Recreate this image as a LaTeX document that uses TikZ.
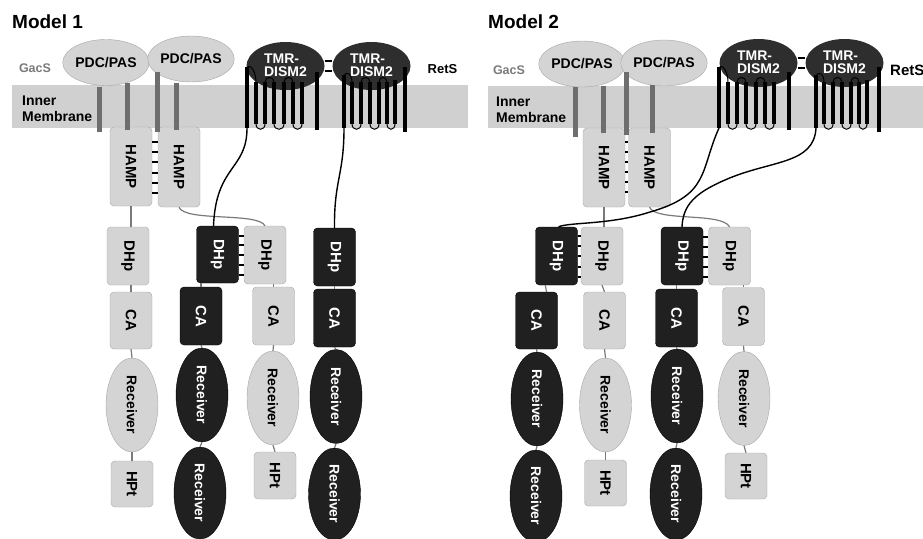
\documentclass[tikz,border=0pt]{standalone}
\usepackage{fontspec}
\setmainfont{Liberation Sans}
\usepackage{graphicx}
\usetikzlibrary{shapes.geometric}
\definecolor{boxfill}{HTML}{D4D4D4}
\definecolor{boxedge}{HTML}{A6A6A6}
\definecolor{domdark}{HTML}{202020}
\definecolor{tmrdark}{HTML}{2E2E2E}
\definecolor{membgrey}{HTML}{D0D0D0}
\definecolor{stalkgrey}{HTML}{6E6E6E}
\definecolor{linkgrey}{HTML}{7A7A7A}
\definecolor{gacsgrey}{HTML}{7A7A7A}

\begin{document}
\begin{tikzpicture}[x=1pt,y=-1pt]
\tikzstyle{every node}+=[inner sep=0pt]
\tikzstyle{gbox}=[draw=boxedge, fill=boxfill, rounded corners=4pt, minimum width=42pt, minimum height=58pt, font=\bfseries\fontsize{15}{17}\selectfont]
\tikzstyle{kbox}=[draw=black, fill=domdark, text=white, rounded corners=4pt, minimum width=42pt, minimum height=58pt, font=\bfseries\fontsize{15}{17}\selectfont]
\tikzstyle{grec}=[ellipse, draw=boxedge, fill=boxfill, minimum width=52pt, minimum height=94pt, font=\bfseries\fontsize{14}{16}\selectfont]
\tikzstyle{krec}=[ellipse, draw=black, fill=domdark, text=white, minimum width=52pt, minimum height=94pt, font=\bfseries\fontsize{14}{16}\selectfont]
\tikzstyle{pas}=[ellipse, draw=boxedge, fill=boxfill, minimum width=80pt, minimum height=46pt, font=\bfseries\fontsize{14}{16}\selectfont]
\tikzstyle{tmr}=[ellipse, fill=tmrdark, text=white, align=left, minimum width=78pt, minimum height=48pt, font=\bfseries\fontsize{14}{17}\selectfont]
\tikzstyle{tag}=[font=\bfseries\fontsize{14}{16}\selectfont]
\tikzstyle{stalk}=[stalkgrey, line width=5pt]
\tikzstyle{helix}=[black, line width=4.5pt]
\tikzstyle{helixloop}=[black, line width=1pt]
\tikzstyle{rung}=[black, line width=1.4pt]
\tikzstyle{linkline}=[linkgrey, line width=1.2pt]
\tikzstyle{tether}=[black, line width=1.4pt]
\useasboundingbox (0,0) rectangle (923,538);
\fill [membgrey] (12,85) rectangle (468,128);
\fill [membgrey] (488,86) rectangle (923,128);
\node [tag, anchor=west, font=\bfseries\fontsize{19}{22}\selectfont] (title1) at (12,22) {Model 1};
\node [tag, anchor=west, font=\bfseries\fontsize{19}{22}\selectfont] (title2) at (488,22) {Model 2};
\node [tag, text=gacsgrey, font=\bfseries\fontsize{12.5}{14}\selectfont] (gacs1) at (35,68) {GacS};
\node [tag, text=gacsgrey, font=\bfseries\fontsize{12.5}{14}\selectfont] (gacs2) at (509,70) {GacS};
\node [tag, anchor=west, align=left] (memb1) at (22,108.5) {Inner\\Membrane};
\node [tag, anchor=west, align=left] (memb2) at (496,109.5) {Inner\\Membrane};
\node [tag, font=\bfseries\fontsize{13}{15}\selectfont] (rets1) at (442.5,69) {RetS};
\node [tag, anchor=west, font=\bfseries\fontsize{15}{17}\selectfont] (rets2) at (890,70) {RetS};
\node [pas] (pas1) at (106,62.5) {PDC/PAS};
\node [pas] (pas2) at (191,59) {PDC/PAS};
\node [pas] (pas3) at (582,64) {PDC/PAS};
\node [pas] (pas4) at (664,63) {PDC/PAS};
\node [tmr] (tmr1) at (285.5,66) {\raisebox{2pt}{\shortstack[l]{TMR-\\DISM2}}};
\node [tmr] (tmr2) at (371.5,66) {\raisebox{2pt}{\shortstack[l]{TMR-\\DISM2}}};
\node [tmr] (tmr3) at (758.5,63) {\raisebox{2pt}{\shortstack[l]{TMR-\\DISM2}}};
\node [tmr] (tmr4) at (844.5,63) {\raisebox{2pt}{\shortstack[l]{TMR-\\DISM2}}};
\node [gbox, minimum height=79pt] (hamp1) at (131,166.5) {\rotatebox{-90}{HAMP}};
\node [gbox, minimum height=80pt] (hamp2) at (179,167) {\rotatebox{-90}{HAMP}};
\node [gbox] (dhp1) at (128,256) {\rotatebox{-90}{DHp}};
\node [gbox, minimum height=57pt] (ca1) at (131,320.5) {\rotatebox{-90}{CA}};
\node [grec] (rec1) at (132,405) {\rotatebox{-90}{Receiver}};
\node [gbox, minimum height=46pt] (hpt1) at (132,484) {\rotatebox{-90}{HPt}};
\node [kbox, minimum height=57pt] (dhp2) at (217.5,254.5) {\rotatebox{-90}{DHp}};
\node [kbox] (ca2) at (201,316) {\rotatebox{-90}{CA}};
\node [krec] (rec2) at (202,395) {\rotatebox{-90}{Receiver}};
\node [krec, minimum height=92pt] (rec3) at (200,493) {\rotatebox{-90}{Receiver}};
\node [gbox] (dhp3) at (265,255) {\rotatebox{-90}{DHp}};
\node [gbox] (ca3) at (273.5,316) {\rotatebox{-90}{CA}};
\node [grec] (rec4) at (273,398) {\rotatebox{-90}{Receiver}};
\node [gbox, minimum height=47pt] (hpt2) at (275,475.5) {\rotatebox{-90}{HPt}};
\node [kbox] (dhp4) at (334.5,257) {\rotatebox{-90}{DHp}};
\node [kbox] (ca4) at (334.5,318) {\rotatebox{-90}{CA}};
\node [krec] (rec5) at (336,396.5) {\rotatebox{-90}{Receiver}};
\node [krec, minimum height=92pt] (rec6) at (334.5,494) {\rotatebox{-90}{Receiver}};
\node [gbox, minimum height=79pt] (hamp3) at (604,167.5) {\rotatebox{-90}{HAMP}};
\node [gbox, minimum height=79pt] (hamp4) at (649.5,167.5) {\rotatebox{-90}{HAMP}};
\node [kbox] (dhp5) at (556.5,256) {\rotatebox{-90}{DHp}};
\node [kbox, minimum height=57pt] (ca5) at (536.5,320.5) {\rotatebox{-90}{CA}};
\node [krec] (rec7) at (537,399) {\rotatebox{-90}{Receiver}};
\node [krec, minimum height=92pt] (rec8) at (536,496) {\rotatebox{-90}{Receiver}};
\node [gbox] (dhp6) at (602,256) {\rotatebox{-90}{DHp}};
\node [gbox, minimum height=57pt] (ca6) at (604.5,320.5) {\rotatebox{-90}{CA}};
\node [grec] (rec9) at (605.5,405) {\rotatebox{-90}{Receiver}};
\node [gbox, minimum height=46pt] (hpt3) at (605.5,483) {\rotatebox{-90}{HPt}};
\node [kbox] (dhp7) at (682,256) {\rotatebox{-90}{DHp}};
\node [kbox] (ca7) at (676.5,318) {\rotatebox{-90}{CA}};
\node [krec] (rec10) at (677,396) {\rotatebox{-90}{Receiver}};
\node [krec, minimum height=92pt] (rec11) at (676,494) {\rotatebox{-90}{Receiver}};
\node [gbox] (dhp8) at (729.5,256) {\rotatebox{-90}{DHp}};
\node [gbox] (ca8) at (743.5,316.5) {\rotatebox{-90}{CA}};
\node [grec] (rec12) at (744,398.5) {\rotatebox{-90}{Receiver}};
\node [gbox, minimum height=46pt] (hpt4) at (746,476) {\rotatebox{-90}{HPt}};
\draw [stalk] (99.5,87) -- (99.5,132);
\draw [stalk] (127.5,83) -- (127.5,130);
\draw [stalk] (157.5,72) -- (157.5,132);
\draw [stalk] (176.5,83) -- (176.5,130);
\draw [stalk] (575.5,87) -- (575.5,137);
\draw [stalk] (603.5,86) -- (603.5,133);
\draw [stalk] (626.5,72) -- (626.5,135);
\draw [stalk] (652.5,85) -- (652.5,133);
\draw [rung] ([yshift=5pt]tmr1.east) -- ([yshift=5pt]tmr2.west) ([yshift=-5pt]tmr1.east) -- ([yshift=-5pt]tmr2.west);
\draw [rung] ([yshift=5pt]tmr3.east) -- ([yshift=5pt]tmr4.west) ([yshift=-5pt]tmr3.east) -- ([yshift=-5pt]tmr4.west);
\draw [helix] (247,67) -- (247,128) (256,82) -- (256,124) (265,82) -- (265,124) (274,82) -- (274,124) (284,82) -- (284,124) (293,82) -- (293,124) (302,82) -- (302,124) (317,72) -- (317,130);
\draw [helixloop] (247,70) .. controls (247,62) and (256,68) .. (256,82) (265,82) .. controls (265,76) and (274,76) .. (274,82) (284,82) .. controls (284,76) and (293,76) .. (293,82) (256,124) .. controls (256,131) and (265,131) .. (265,124) (274,124) .. controls (274,131) and (284,131) .. (284,124) (293,124) .. controls (293,131) and (302,131) .. (302,124);
\draw [helix] (344,75) -- (344,128) (352,82) -- (352,124) (361,82) -- (361,124) (370,82) -- (370,124) (379,82) -- (379,124) (387,82) -- (387,124) (395,80) -- (395,124) (405,67) -- (405,132);
\draw [helixloop] (344,77) .. controls (344,71) and (352,72) .. (352,82) (361,82) .. controls (361,76) and (370,76) .. (370,82) (379,82) .. controls (379,76) and (387,76) .. (387,82) (352,124) .. controls (352,131) and (361,131) .. (361,124) (370,124) .. controls (370,131) and (379,131) .. (379,124) (387,124) .. controls (387,131) and (395,131) .. (395,124);
\draw [helix] (719,67) -- (719,128) (728,82) -- (728,124) (737,82) -- (737,124) (746,82) -- (746,124) (756,82) -- (756,124) (765,82) -- (765,124) (774,82) -- (774,124) (789,72) -- (789,130);
\draw [helixloop] (719,70) .. controls (719,62) and (728,68) .. (728,82) (737,82) .. controls (737,76) and (746,76) .. (746,82) (756,82) .. controls (756,76) and (765,76) .. (765,82) (728,124) .. controls (728,131) and (737,131) .. (737,124) (746,124) .. controls (746,131) and (756,131) .. (756,124) (765,124) .. controls (765,131) and (774,131) .. (774,124);
\draw [helix] (816,75) -- (816,128) (824,82) -- (824,124) (833,82) -- (833,124) (842,82) -- (842,124) (851,82) -- (851,124) (859,82) -- (859,124) (867,80) -- (867,124) (879,67) -- (879,132);
\draw [helixloop] (816,77) .. controls (816,71) and (824,72) .. (824,82) (833,82) .. controls (833,76) and (842,76) .. (842,82) (851,82) .. controls (851,76) and (859,76) .. (859,82) (824,124) .. controls (824,131) and (833,131) .. (833,124) (842,124) .. controls (842,131) and (851,131) .. (851,124) (859,124) .. controls (859,131) and (867,131) .. (867,124);
\coordinate (foot1) at (247,128);
\coordinate (foot2) at (344,128);
\coordinate (foot3) at (719,128);
\coordinate (foot4) at (816,128);
\draw [rung] (hamp1.east |- 0,142) -- (hamp2.west |- 0,142) (hamp1.east |- 0,152) -- (hamp2.west |- 0,152) (hamp1.east |- 0,162) -- (hamp2.west |- 0,162) (hamp1.east |- 0,173) -- (hamp2.west |- 0,173) (hamp1.east |- 0,183) -- (hamp2.west |- 0,183) (hamp1.east |- 0,193) -- (hamp2.west |- 0,193);
\draw [rung] (dhp2.east |- 0,236) -- (dhp3.west |- 0,236) (dhp2.east |- 0,245) -- (dhp3.west |- 0,245) (dhp2.east |- 0,255) -- (dhp3.west |- 0,255) (dhp2.east |- 0,265) -- (dhp3.west |- 0,265) (dhp2.east |- 0,275) -- (dhp3.west |- 0,275);
\draw [rung] (hamp3.east |- 0,142) -- (hamp4.west |- 0,142) (hamp3.east |- 0,152) -- (hamp4.west |- 0,152) (hamp3.east |- 0,162) -- (hamp4.west |- 0,162) (hamp3.east |- 0,172) -- (hamp4.west |- 0,172) (hamp3.east |- 0,182) -- (hamp4.west |- 0,182) (hamp3.east |- 0,192) -- (hamp4.west |- 0,192);
\draw [rung] (dhp5.east |- 0,236) -- (dhp6.west |- 0,236) (dhp5.east |- 0,246) -- (dhp6.west |- 0,246) (dhp5.east |- 0,256) -- (dhp6.west |- 0,256) (dhp5.east |- 0,267) -- (dhp6.west |- 0,267) (dhp5.east |- 0,277) -- (dhp6.west |- 0,277);
\draw [rung] (dhp7.east |- 0,237) -- (dhp8.west |- 0,237) (dhp7.east |- 0,247) -- (dhp8.west |- 0,247) (dhp7.east |- 0,257) -- (dhp8.west |- 0,257) (dhp7.east |- 0,267) -- (dhp8.west |- 0,267) (dhp7.east |- 0,277) -- (dhp8.west |- 0,277);
\draw [linkline] (hamp1.south) -- (hamp1.south |- dhp1.north);
\draw [linkline] (ca1.north |- dhp1.south) -- (ca1.north);
\draw [linkline] (ca1.south) -- (rec1.north);
\draw [linkline] (rec1.south) -- (hpt1.north);
\draw [linkline] (ca2.north |- dhp2.south) -- (ca2.north);
\draw [linkline] (ca2.south) -- (rec2.north);
\draw [linkline] (rec2.south) -- (rec3.north);
\draw [linkline] (ca3.north |- dhp3.south) -- (ca3.north);
\draw [linkline] (ca3.south) -- (rec4.north);
\draw [linkline] (rec4.south) -- (hpt2.north);
\draw [linkline] (dhp4.south) -- (ca4.north);
\draw [linkline] (ca4.south) -- (rec5.north);
\draw [linkline] (rec5.south) -- (rec6.north);
\draw [linkline] (hamp2.south) .. controls (185,222) and (258,212) .. (dhp3.north);
\draw [linkline] (hamp3.south) -- (hamp3.south |- dhp6.north);
\draw [linkline] ([xshift=10pt]dhp5.south west) -- ([xshift=10pt]ca5.north);
\draw [linkline] (dhp6.south) -- (ca6.north);
\draw [linkline] (ca5.south) -- (rec7.north);
\draw [linkline] (rec7.south) -- (rec8.north);
\draw [linkline] (ca6.south) -- (rec9.north);
\draw [linkline] (rec9.south) -- (hpt3.north);
\draw [linkline] (ca7.north |- dhp7.south) -- (ca7.north);
\draw [linkline] (ca7.south) -- (rec10.north);
\draw [linkline] (rec10.south) -- (rec11.north);
\draw [linkline] (ca8.north |- dhp8.south) -- (ca8.north);
\draw [linkline] (ca8.south) -- (rec12.north);
\draw [linkline] (rec12.south) -- (hpt4.north);
\draw [linkline] (hamp4.south) .. controls (656,222) and (722,212) .. (dhp8.north);
\draw [tether] (foot1) .. controls (247,170) and (216,165) .. ([xshift=-4pt]dhp2.north);
\draw [tether] (foot2) .. controls (344,175) and (334,180) .. (dhp4.north);
\draw [tether] (foot3) .. controls (700,170) and (710,195) .. (650,212) .. controls (610,225) and (570,222) .. ([xshift=2pt]dhp5.north);
\draw [tether] (foot4) .. controls (814,165) and (770,160) .. (725,180) .. controls (695,193) and (683,205) .. (dhp7.north);
\end{tikzpicture}
\end{document}
